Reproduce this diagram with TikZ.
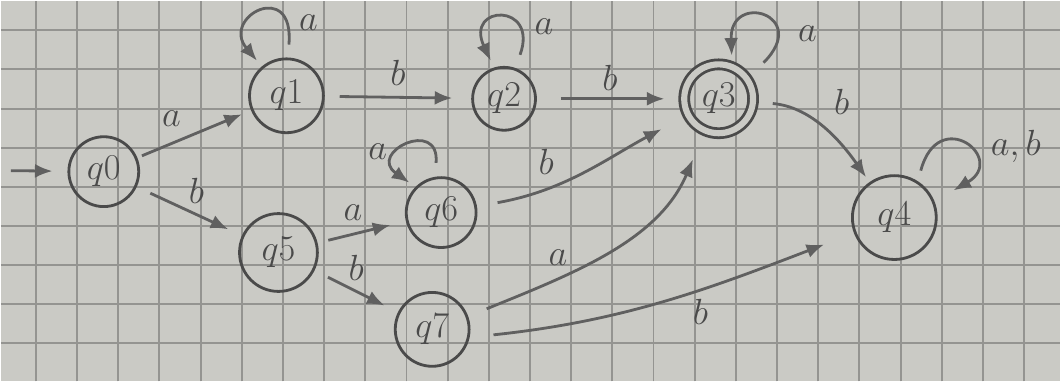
\documentclass[tikz,border=0pt]{standalone}
\usepackage{amsmath,amssymb}
\usepackage{xcolor}
\usepackage{tikz}
\usetikzlibrary{arrows.meta, positioning, calc}
\definecolor{paper}{RGB}{202,202,197}
\definecolor{gridgray}{RGB}{148,148,145}
\definecolor{inkgray}{RGB}{74,74,74}
\definecolor{pencilgray}{RGB}{96,96,96}

\begin{document}
\begin{tikzpicture}[
  x=0.02cm, y=0.02cm,
  state/.style={draw=inkgray, circle, line width=1.6pt, inner sep=0pt,
                minimum size=1.45cm, text=inkgray, font=\fontsize{21}{23}\selectfont},
  accept/.style={double=paper, double distance=3.5pt},
  arrow/.style={-{Latex[length=10pt, width=8pt]}, line width=1.6pt, draw=pencilgray,
                shorten <=0.3cm, shorten >=0.3cm},
  lbl/.style={text=inkgray, font=\fontsize{21}{23}\selectfont, inner sep=2pt},
  gridline/.style={gridgray, line width=1.1pt}
]
  % squared paper
  \fill[paper] (0,0) rectangle (1061,381);
  \foreach \gx in {35,76.25,...,1027}
    \draw[gridline] (\gx,0) -- (\gx,381);
  \foreach \gy in {38,77.2,...,352}
    \draw[gridline] (0,\gy) -- (1061,\gy);
  \useasboundingbox (0,0) rectangle (1061,381);

  % states
  \node[state, minimum size=1.40cm] (q0) at (103,210) {$q0$};
  \node[state, minimum size=1.48cm] (q1) at (286,286) {$q1$};
  \node[state, minimum size=1.26cm] (q2) at (504,283) {$q2$};
  \node[state, accept, minimum size=1.38cm] (q3) at (719,283) {$q3$};
  \node[state, minimum size=1.68cm] (q4) at (895,164) {$q4$};
  \node[state, minimum size=1.56cm] (q5) at (278,129) {$q5$};
  \node[state, minimum size=1.40cm] (q6) at (441,169) {$q6$};
  \node[state, minimum size=1.48cm] (q7) at (432,52)  {$q7$};
  \coordinate (start) at (10,211);

  % transitions
  \draw[arrow, shorten <=0pt] (start) -- (q0);
  \draw[arrow, shorten <=0.1cm, shorten >=0.2cm] (q0) -- node[lbl, above=7pt, pos=0.3] {$a$} (q1);
  \draw[arrow] (q0) -- node[lbl, above right, pos=0.45] {$b$} (q5);
  \draw[arrow, shorten >=0.38cm] (q1) -- node[lbl, above=4pt] {$b$} (q2);
  \draw[arrow, shorten <=0.48cm, shorten >=0.37cm] (q2) -- node[lbl, above=2pt] {$b$} (q3);
  \draw[arrow, shorten <=0.22cm, shorten >=0.32cm] (q5) -- node[lbl, above=5pt, pos=0.4] {$a$} (q6);
  \draw[arrow] (q5) -- node[lbl, above right, pos=0.35] {$b$} (q7);
  \draw[arrow, shorten <=0.37cm, shorten >=0.12cm] (q3) to[out=-5, in=125]
    node[lbl, above right=2pt and 8pt, pos=0.45] {$b$} (q4);
  \draw[arrow, shorten <=0.42cm, shorten >=0.58cm] (q6) to[out=10, in=208]
    node[lbl, above=5pt, pos=0.3] {$b$} (q3);
  \draw[arrow, shorten <=0.4cm, shorten >=0.6cm] (q7.20) to[out=22, in=247]
    node[lbl, above left, pos=0.35] {$a$} (q3);
  \draw[arrow, shorten <=0.48cm, shorten >=0.64cm] (q7.-12) to[out=6, in=201]
    node[lbl, below=3pt, pos=0.6] {$b$} (q4);

  % self loops
  \draw[arrow, shorten <=0.26cm, shorten >=0.15cm] (q1.88) .. controls +(85:1.6cm) and +(130:1.3cm) ..
    node[lbl, right=6pt, pos=0.2] {$a$} (q1.130);
  \draw[arrow, shorten <=0.28cm, shorten >=0.15cm] (q2.70) .. controls +(70:1.4cm) and +(115:1.4cm) ..
    node[lbl, right=8pt, pos=0.3] {$a$} (q2.108);
  \draw[arrow, shorten <=0.44cm, shorten >=0.2cm] (q3.35) .. controls +(45:1.8cm) and +(92:1.5cm) ..
    node[lbl, right=12pt, pos=0.3] {$a$} (q3.68);
  \draw[arrow, shorten <=0.22cm, shorten >=0.44cm] (q4.57) .. controls +(75:1.6cm) and +(30:1.7cm) ..
    node[lbl, right=14pt, pos=0.5] {$a, b$} (q4.22);
  \draw[arrow, shorten <=0.28cm, shorten >=0.15cm] (q6.100) .. controls +(85:1.2cm) and +(145:1.2cm) ..
    node[lbl, left=6pt, pos=0.6] {$a$} (q6.135);
\end{tikzpicture}
\end{document}
